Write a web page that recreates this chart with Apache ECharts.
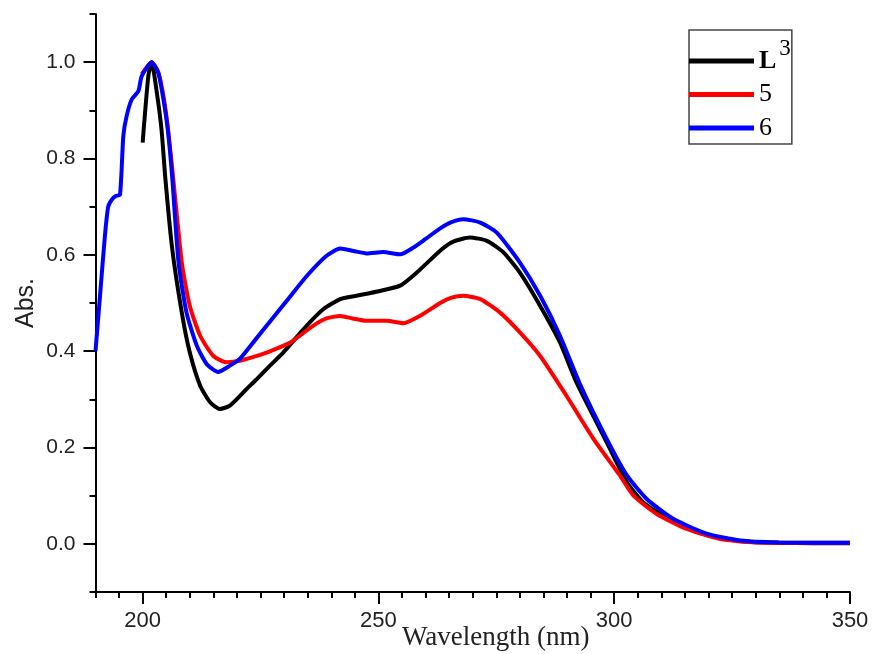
<!DOCTYPE html>
<html>
<head>
<meta charset="utf-8">
<script src="https://cdn.jsdelivr.net/npm/echarts@6/dist/echarts.min.js"></script>
<style>
  html, body { margin: 0; padding: 0; background: #fff; }
  #chart { width: 893px; height: 654px; }
</style>
</head>
<body>
<div id="chart"></div>
<script>
// spectra: wavelength (nm) and absorbance
const wlL3 = [200, 201.2, 201.9, 203, 204, 204.8, 206.2, 208.3, 210, 212.2, 214.3, 216.4, 218.5, 222, 224.2, 227, 229.8, 234.8, 238.3, 241.9, 245.4, 250.3, 254.6, 258.1, 263.5, 266, 269.4, 273, 276.5, 280, 284.3, 288.5, 292, 298.4, 302.7, 306.2, 312.5, 319.6, 326.7, 335, 350];
const absL3 = [0.833, 0.971, 1.0, 0.937, 0.86, 0.76, 0.618, 0.48, 0.397, 0.328, 0.294, 0.28, 0.287, 0.321, 0.342, 0.37, 0.397, 0.453, 0.487, 0.508, 0.515, 0.525, 0.536, 0.563, 0.612, 0.628, 0.636, 0.629, 0.605, 0.563, 0.494, 0.418, 0.335, 0.211, 0.128, 0.086, 0.046, 0.018, 0.006, 0.002, 0.001];

const wl5 = [199.8, 201.9, 203.3, 204.4, 205.4, 206.5, 208.3, 210, 212.2, 215, 217.8, 220.6, 223.5, 226.3, 231.3, 236.2, 239, 241.9, 244.5, 247.5, 251.8, 255.3, 258.8, 263.1, 265.5, 268, 271.6, 275.8, 280, 284.3, 289.9, 295.6, 301.2, 304.1, 309, 315.4, 322.5, 330, 350];
const abs5 = [0.975, 1.0, 0.98, 0.93, 0.86, 0.757, 0.584, 0.494, 0.432, 0.39, 0.377, 0.38, 0.388, 0.397, 0.418, 0.453, 0.468, 0.473, 0.468, 0.463, 0.463, 0.458, 0.473, 0.5, 0.511, 0.515, 0.508, 0.48, 0.439, 0.39, 0.307, 0.218, 0.142, 0.1, 0.062, 0.031, 0.01, 0.003, 0.002];

const wl6 = [190, 191, 192, 192.7, 193.5, 194.3, 195.2, 195.9, 196.6, 197.7, 199.1, 199.8, 201.9, 203.3, 204.4, 205.4, 206.3, 207.6, 209.3, 211.5, 213.6, 216, 218.5, 220.6, 224, 227.7, 231, 234.8, 239, 241.9, 244.7, 247.5, 251, 254.6, 257.4, 260, 263.1, 265.5, 268, 271.6, 275.1, 280, 284.3, 288.5, 292.8, 298.4, 302.7, 306.9, 312.5, 319.6, 326.7, 335, 350];
const abs6 = [0.40, 0.52, 0.64, 0.70, 0.715, 0.722, 0.725, 0.847, 0.888, 0.923, 0.94, 0.971, 1.0, 0.978, 0.923, 0.854, 0.757, 0.585, 0.48, 0.411, 0.373, 0.357, 0.37, 0.384, 0.425, 0.47, 0.51, 0.556, 0.598, 0.613, 0.608, 0.603, 0.606, 0.601, 0.615, 0.633, 0.655, 0.668, 0.674, 0.667, 0.646, 0.584, 0.515, 0.432, 0.33, 0.218, 0.142, 0.093, 0.052, 0.021, 0.007, 0.003, 0.002];

const xMajor = [200, 250, 300, 350];
const yMajor = [0, 0.2, 0.4, 0.6, 0.8, 1.0];

function zip(xs, ys) {
    return xs.map((x, i) => [x, ys[i]]);
}

const myChart = echarts.init(document.getElementById('chart'));

const option = {
    animation: false,
    backgroundColor: '#fff',
    grid: {
        left: 95.5,
        right: 43,
        top: 14,
        bottom: 62,
        outerBoundsMode: 'none'
    },
    legend: {
        orient: 'vertical',
        left: 689,
        top: 30,
        padding: [7, 1, 3, 0],
        itemGap: 7.5,
        itemWidth: 65,
        itemHeight: 5,
        icon: 'rect',
        borderColor: '#444',
        borderWidth: 1.5,
        textStyle: {
            fontFamily: 'Liberation Serif',
            fontSize: 26,
            lineHeight: 26,
            color: '#000',
            rich: {
                b: { fontFamily: 'Liberation Serif', fontSize: 26, fontWeight: 'bold', color: '#000' },
                s: { fontFamily: 'Liberation Serif', fontSize: 23, color: '#000', height: 1, verticalAlign: 'top', padding: [0, 0, 0, 3] }
            }
        },
        formatter: name => name === 'L3' ? '{b|L}{s|3}' : name,
        data: ['L3', '5', '6']
    },
    xAxis: [
        {
            type: 'value',
            min: 190,
            max: 350,
            interval: 5,
            name: 'Wavelength (nm)',
            nameLocation: 'middle',
            nameGap: 32,
            nameMoveOverlap: false,
            nameTextStyle: {
                fontFamily: 'Liberation Serif',
                fontSize: 27,
                color: '#222',
                padding: [0, 0, 0, 46]
            },
            axisLine: { onZero: false, lineStyle: { color: '#000', width: 2 } },
            axisTick: { length: 6, lineStyle: { color: '#000', width: 2 } },
            axisLabel: {
                margin: 18,
                customValues: xMajor,
                color: '#222',
                fontFamily: 'Liberation Sans',
                fontSize: 22
            },
            splitLine: { show: false }
        },
        {
            type: 'value',
            position: 'bottom',
            min: 190,
            max: 350,
            axisLine: { show: false, onZero: false },
            axisTick: { length: 12, customValues: xMajor, lineStyle: { color: '#000', width: 2 } },
            axisLabel: { show: false },
            splitLine: { show: false }
        }
    ],
    yAxis: [
        {
            type: 'value',
            min: -0.1,
            max: 1.1,
            interval: 0.1,
            name: 'Abs.',
            nameLocation: 'middle',
            nameGap: 57,
            nameMoveOverlap: false,
            nameTextStyle: {
                fontFamily: 'Liberation Sans',
                fontSize: 25,
                color: '#222'
            },
            axisLine: { show: true, onZero: false, lineStyle: { color: '#000', width: 2 } },
            axisTick: { length: 6, lineStyle: { color: '#000', width: 2 } },
            axisLabel: {
                margin: 20,
                customValues: yMajor,
                formatter: v => v.toFixed(1),
                color: '#222',
                fontFamily: 'Liberation Sans',
                fontSize: 21
            },
            splitLine: { show: false }
        },
        {
            type: 'value',
            position: 'left',
            min: -0.1,
            max: 1.1,
            axisLine: { show: false, onZero: false },
            axisTick: { length: 12, customValues: yMajor, lineStyle: { color: '#000', width: 2 } },
            axisLabel: { show: false },
            splitLine: { show: false }
        }
    ],
    series: [
        {
            name: 'L3',
            type: 'line',
            data: zip(wlL3, absL3),
            showSymbol: false,
            smooth: 0.2,
            color: '#000',
            lineStyle: { color: '#000', width: 4 }
        },
        {
            name: '5',
            type: 'line',
            data: zip(wl5, abs5),
            showSymbol: false,
            smooth: 0.2,
            color: '#ff0000',
            lineStyle: { color: '#ff0000', width: 4 }
        },
        {
            name: '6',
            type: 'line',
            data: zip(wl6, abs6),
            showSymbol: false,
            smooth: 0.2,
            color: '#0000ff',
            lineStyle: { color: '#0000ff', width: 4 }
        }
    ]
};

myChart.setOption(option);
</script>
</body>
</html>
